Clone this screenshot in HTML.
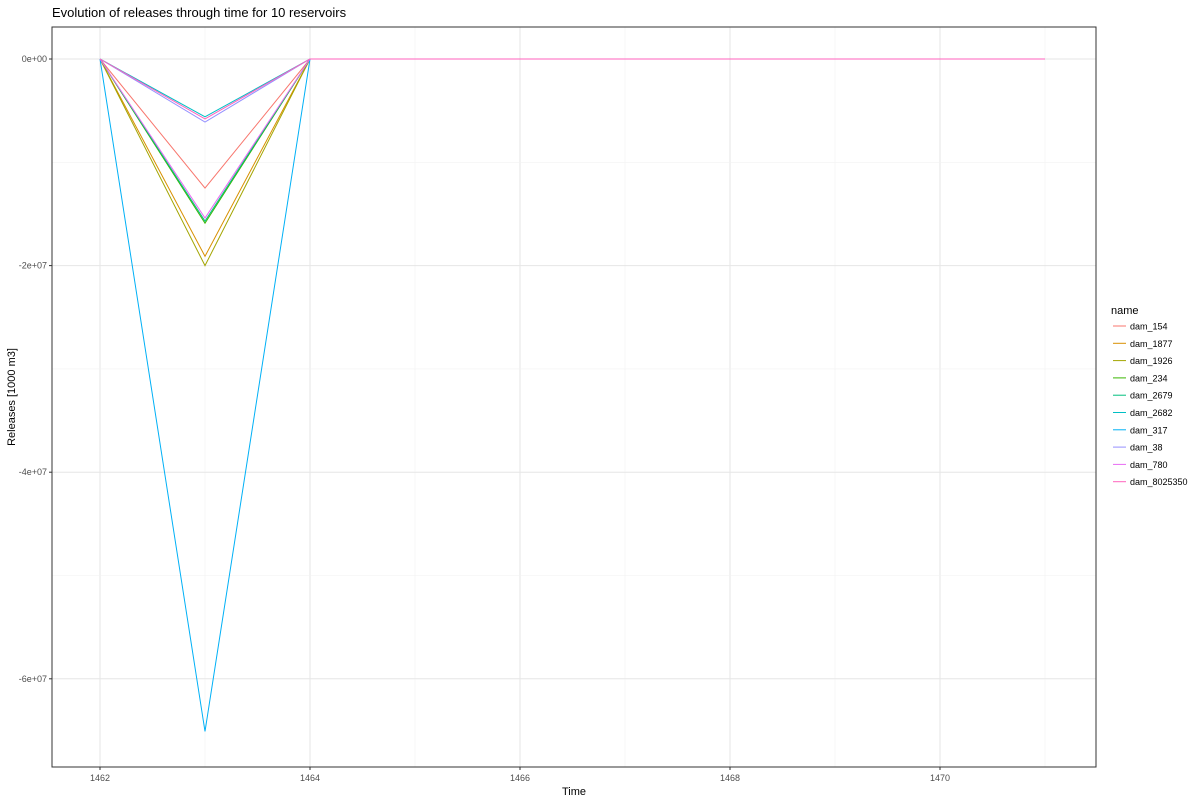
<!DOCTYPE html>
<html><head><meta charset="utf-8"><style>
body{margin:0;background:#fff;font-family:"Liberation Sans",Arial,sans-serif}
svg text{font-family:"Liberation Sans",Arial,sans-serif}
</style></head><body>
<svg id="chart" width="1200" height="800">
<text x="52" y="17" font-size="13" fill="#000">Evolution of releases through time for 10 reservoirs</text>
<g id="grid"></g>
<g id="lines"></g>
<rect x="52" y="27" width="1044" height="740" fill="none" stroke="#333" stroke-width="1"/>
<g id="axes"></g>
<text x="574" y="795" font-size="11" text-anchor="middle">Time</text>
<text transform="translate(15,397) rotate(-90)" font-size="11" text-anchor="middle">Releases [1000 m3]</text>
<g id="legend"></g>
</svg>
<script>
const times=[1462,1463,1464,1465,1466,1467,1468,1469,1470,1471];
const seriesNames=["dam_154","dam_1877","dam_1926","dam_234","dam_2679","dam_2682","dam_317","dam_38","dam_780","dam_8025350"];
const troughValues=[-1.25e7,-1.91e7,-2.0e7,-1.59e7,-1.57e7,-0.56e7,-6.51e7,-0.61e7,-1.54e7,-0.58e7];
const colors=["#F8766D","#D89000","#A3A500","#39B600","#00BF7D","#00BFC4","#00B0F6","#9590FF","#E76BF3","#FF62BC"];
const xTicks=[1462,1464,1466,1468,1470];
const yTicks=[0,-2e7,-4e7,-6e7];
const yTickLabels=["0e+00","-2e+07","-4e+07","-6e+07"];
const NS="http://www.w3.org/2000/svg";
function X(t){return 100+(t-1462)*105;}
function Y(v){return 59-v/1e7*103.3;}
function mk(tag,attrs,parent){const e=document.createElementNS(NS,tag);for(const k in attrs)e.setAttribute(k,attrs[k]);parent.appendChild(e);return e;}
const grid=document.getElementById('grid'),axes=document.getElementById('axes'),lines=document.getElementById('lines'),legend=document.getElementById('legend');
for(let t=1462;t<=1471;t++){
  const l=mk('line',{x1:X(t),x2:X(t),y1:27,y2:767,stroke:t%2===0?'#e6e6e6':'#f2f2f2','stroke-width':t%2===0?1:0.6},grid);
  
  
}
for(let v=0;v>=-7e7;v-=1e7){
  if(Y(v)<27||Y(v)>767)continue;
  const l=mk('line',{x1:52,x2:1096,y1:Y(v),y2:Y(v),stroke:(v/1e7)%2===0?'#e6e6e6':'#f2f2f2','stroke-width':(v/1e7)%2===0?1:0.6},grid);
  
  
}
xTicks.forEach(t=>{
  const tk=mk('line',{x1:X(t),x2:X(t),y1:767,y2:770,stroke:'#333'},axes);
  
  
  const tx=mk('text',{x:X(t),y:781,'font-size':9,'text-anchor':'middle',fill:'#4d4d4d'},axes);
  tx.textContent=t;
  
  
});
yTicks.forEach((v,i)=>{
  const tk=mk('line',{x1:49,x2:52,y1:Y(v),y2:Y(v),stroke:'#333'},axes);
  
  
  const tx=mk('text',{x:47,y:Y(v)+3,'font-size':9,'text-anchor':'end',fill:'#4d4d4d'},axes);
  tx.textContent=yTickLabels[i];
  
  
});
seriesNames.forEach((n,i)=>{
  const vals=times.map(t=>t===1463?troughValues[i]:0);
  const pts=times.map((t,j)=>X(t)+','+Y(vals[j])).join(' ');
  const p=mk('polyline',{points:pts,fill:'none',stroke:colors[i],'stroke-width':1},lines);
  
  
});
const lt=mk('text',{x:1111,y:314,'font-size':11},legend);
lt.textContent='name';


seriesNames.forEach((n,i)=>{
  const y=326+i*17.3;
  const g=mk('g',{},legend);
  
  
  mk('line',{x1:1113,x2:1126,y1:y,y2:y,stroke:colors[i],'stroke-width':1},g);
  const t=mk('text',{x:1130,y:y+3.5,'font-size':9},g);
  t.textContent=n;
});
</script>
</body></html>
